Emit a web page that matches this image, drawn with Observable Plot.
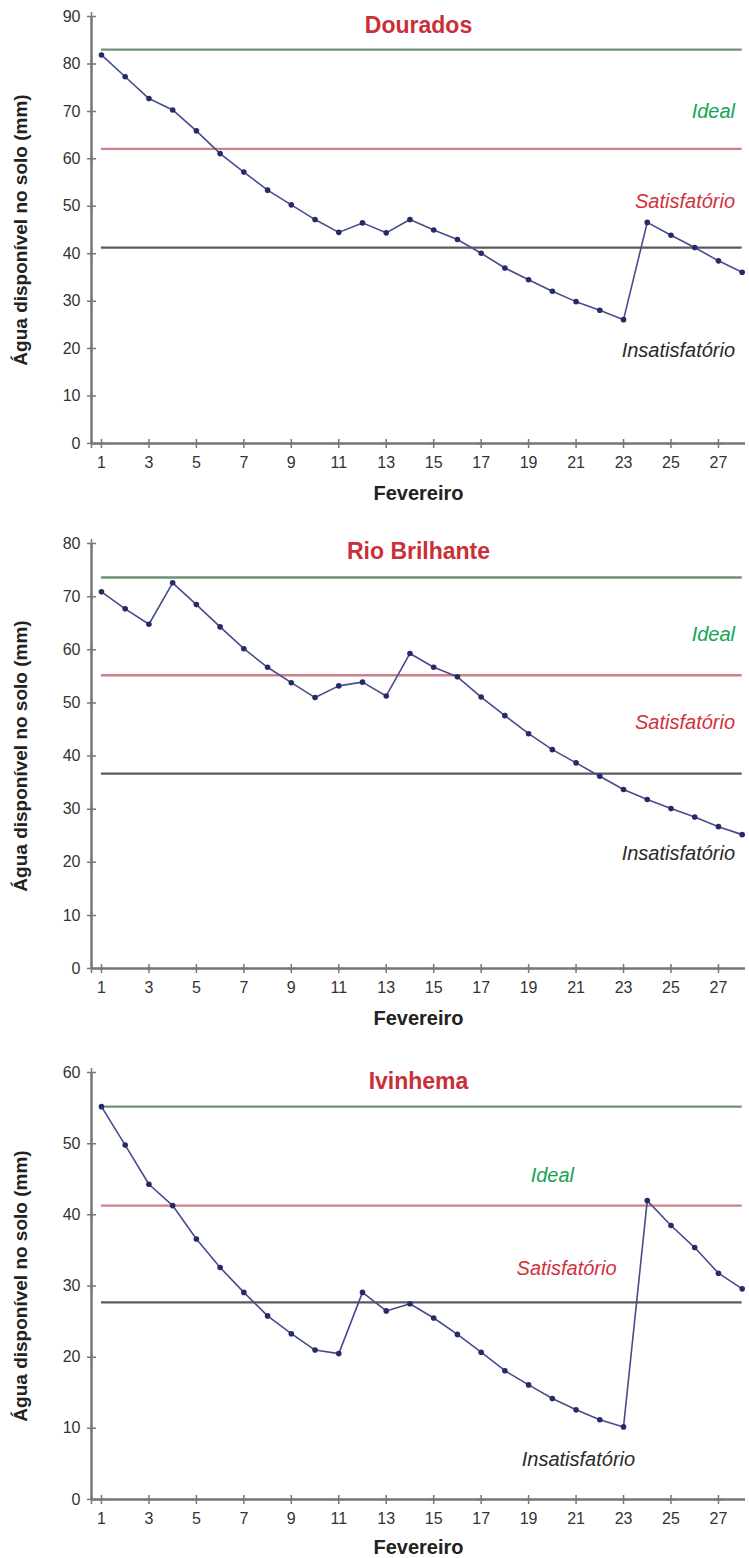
<!DOCTYPE html>
<html>
<head>
<meta charset="utf-8">
<script src="https://cdn.jsdelivr.net/npm/d3@7"></script>
<script src="https://cdn.jsdelivr.net/npm/@observablehq/plot@0.6"></script>
<style>
  html, body { margin: 0; padding: 0; background: #fff; }
  #charts svg { display: block; }
</style>
</head>
<body>
<div id="charts"></div>
<script>
// ---- Data ----
const days = [1,2,3,4,5,6,7,8,9,10,11,12,13,14,15,16,17,18,19,20,21,22,23,24,25,26,27,28];
const xTicks = [1,3,5,7,9,11,13,15,17,19,21,23,25,27];

const stations = ["Dourados", "Rio Brilhante", "Ivinhema"];

const douradosValues = [81.9,77.3,72.7,70.3,65.9,61.1,57.2,53.4,50.3,47.2,44.5,46.5,44.4,47.2,45.0,43.0,40.1,37.0,34.5,32.1,29.9,28.1,26.1,46.6,43.9,41.3,38.5,36.1];
const rioBrilhanteValues = [70.9,67.7,64.8,72.6,68.5,64.3,60.2,56.7,53.8,51.0,53.2,53.9,51.3,59.3,56.7,54.9,51.1,47.6,44.2,41.2,38.7,36.2,33.7,31.8,30.1,28.5,26.7,25.2];
const ivinhemaValues = [55.2,49.8,44.3,41.3,36.6,32.6,29.1,25.8,23.3,21.0,20.5,29.1,26.5,27.5,25.5,23.2,20.7,18.1,16.1,14.2,12.6,11.2,10.2,42.0,38.5,35.4,31.8,29.6];

// limits: ideal upper, ideal/satisfatório, satisfatório/insatisfatório
const douradosLimits = [83.0, 62.1, 41.3];
const rioBrilhanteLimits = [73.6, 55.2, 36.7];
const ivinhemaLimits = [55.2, 41.3, 27.7];

const yTicksDourados = [0,10,20,30,40,50,60,70,80,90];
const yTicksRioBrilhante = [0,10,20,30,40,50,60,70,80];
const yTicksIvinhema = [0,10,20,30,40,50,60];

const classLabels = ["Ideal", "Satisfatório", "Insatisfatório"];
const yLabel = "Água disponível no solo (mm)";
const xLabel = "Fevereiro";

// ---- Styles ----
const FONT = "'Liberation Sans', Arial, Helvetica, sans-serif";
const limitColors = ["#6d9276", "#cf7f86", "#5a5a5a"];
const labelColors = ["#12a454", "#d0323b", "#2a2a2a"];
const titleColor = "#c92f37";
const axisColor = "#777777";

function panel(cfg) {
  const series = days.map((d, i) => ({day: d, value: cfg.values[i]}));
  const limits = cfg.limits.map((v, i) => ({v, i}));
  const labels = classLabels.map((t, i) => ({t, i, x: cfg.labelPos[i][0], y: cfg.labelPos[i][1]}));
  const x0 = 0.58, x1 = 28.14;
  return Plot.plot({
    width: 749,
    height: cfg.height,
    marginLeft: 91,
    marginRight: 4,
    marginTop: cfg.marginTop,
    marginBottom: cfg.marginBottom,
    style: {fontFamily: FONT, background: "#fff", overflow: "visible"},
    x: {domain: [x0, x1]},
    y: {domain: cfg.yDomain},
    marks: [
      // threshold lines
      Plot.ruleY(limits, {y: "v", x1: 1, x2: 28, stroke: d => limitColors[d.i], strokeWidth: 2.3}),
      // axes lines
      Plot.ruleX([x0], {stroke: axisColor, strokeWidth: 2.5}),
      Plot.ruleY([0], {stroke: axisColor, strokeWidth: 2.5, x1: x0, x2: x1}),
      // tick crosses
      Plot.dot(cfg.yTicks, {x: x0, y: d => d, symbol: "plus", r: 3, stroke: axisColor, strokeWidth: 1.5}),
      Plot.dot(xTicks, {x: d => d, y: 0, symbol: "plus", r: 3, stroke: axisColor, strokeWidth: 1.5}),
      Plot.axisY({ticks: cfg.yTicks, tickSize: 0, tickPadding: 11, fontSize: 16, color: "#333", label: null}),
      Plot.axisX({ticks: xTicks, tickSize: 0, tickPadding: 13, fontSize: 16, color: "#333", label: null}),
      // data
      Plot.line(series, {x: "day", y: "value", stroke: "#474c8e", strokeWidth: 1.6}),
      Plot.dot(series, {x: "day", y: "value", r: 2.8, fill: "#262a68"}),
      // class labels
      Plot.text(labels, {x: "x", y: "y", text: "t", fill: d => labelColors[d.i], fontSize: 20, fontStyle: "italic", textAnchor: cfg.labelAnchor}),
      // title
      Plot.text([cfg.title], {frameAnchor: "top", dy: cfg.titleDy, fontSize: 23, fontWeight: "bold", fill: titleColor, lineAnchor: "middle", textAnchor: "middle"}),
      // y axis title
      Plot.text([yLabel], {frameAnchor: "left", rotate: -90, dx: -71, fontSize: 19, fontWeight: "bold", fill: "#222", textAnchor: "middle", lineAnchor: "middle"}),
      // x axis title
      Plot.text([xLabel], {frameAnchor: "bottom", dy: cfg.xTitleDy, fontSize: 20, fontWeight: "bold", fill: "#222", lineAnchor: "middle", textAnchor: "middle"})
    ]
  });
}

const root = document.getElementById("charts");
root.appendChild(panel({
  title: stations[0], values: douradosValues, limits: douradosLimits, yTicks: yTicksDourados,
  yDomain: [0, 90], height: 510, marginTop: 16, marginBottom: 67, titleDy: 9, xTitleDy: 50,
  labelAnchor: "end", labelPos: [[27.7, 70], [27.7, 51], [27.7, 19.6]]
}));
root.appendChild(panel({
  title: stations[1], values: rioBrilhanteValues, limits: rioBrilhanteLimits, yTicks: yTicksRioBrilhante,
  yDomain: [0, 80], height: 525, marginTop: 33, marginBottom: 67, titleDy: 8, xTitleDy: 50,
  labelAnchor: "end", labelPos: [[27.7, 62.9], [27.7, 46.3], [27.7, 21.7]]
}));
root.appendChild(panel({
  title: stations[2], values: ivinhemaValues, limits: ivinhemaLimits, yTicks: yTicksIvinhema,
  yDomain: [0, 60], height: 523, marginTop: 37, marginBottom: 59, titleDy: 9, xTitleDy: 48,
  labelAnchor: "middle", labelPos: [[20.0, 45.5], [20.6, 32.4], [21.1, 5.6]]
}));
</script>
</body>
</html>
